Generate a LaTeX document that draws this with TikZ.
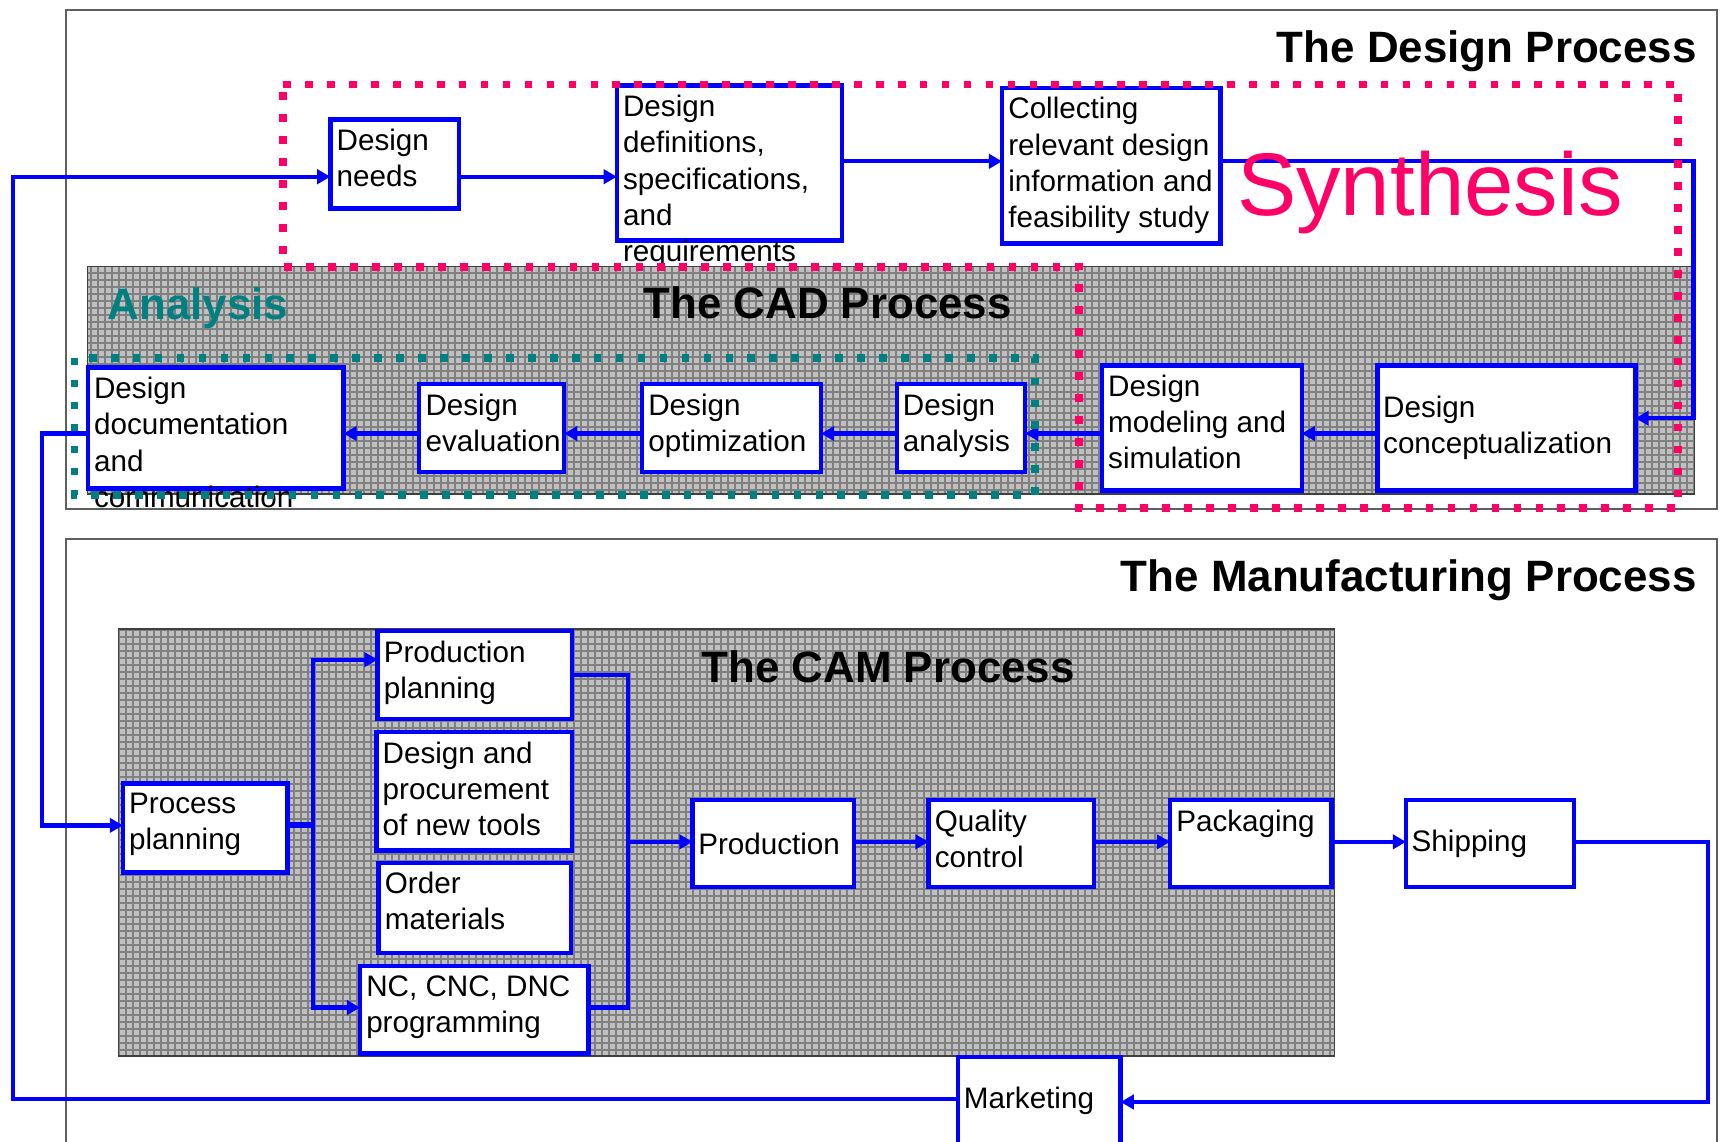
\documentclass[tikz,border=0pt]{standalone}
\usepackage{fontspec}
\setmainfont{Liberation Sans}
\usetikzlibrary{arrows.meta}

\definecolor{flowblue}{RGB}{0,0,255}
\definecolor{synpink}{RGB}{255,0,102}
\definecolor{anateal}{RGB}{0,128,128}
\definecolor{gridfill}{RGB}{192,192,192}
\definecolor{gridline}{RGB}{128,128,128}
\definecolor{framegray}{RGB}{95,95,95}

% a box: name, x, y (north west corner), width, height
\newcommand\flowbox[5]{\node[blk, minimum width=#4pt, minimum height=#5pt] (#1) at (#2,#3) {};}
% top-left label inside a box
\newcommand\toplabel[2]{\node[lbl] (#1-t) at ([xshift=5.5pt,yshift=-8.5pt]#1.north west) {#2};}
% vertically centred label inside a box
\newcommand\midlabel[2]{\node[lbl, anchor=west] (#1-t) at ([xshift=5pt]#1.west) {#2};}
% hatched grey process area (mesh pitch of 7 device pixels)
\newcommand\gridarea[4]{%
  \begin{scope}
    \clip (#1,#2) rectangle (#3,#4);
    \fill[gridfill] (#1,#2) rectangle (#3,#4);
    \draw[gridline, line width=1.8222pt, step=6.37769pt] (#1,#2) grid (#3,#4);
  \end{scope}
  \draw[black!75, line width=1.2pt] (#1,#2) rectangle (#3,#4);}

\begin{document}
\begin{tikzpicture}[x=1pt, y=-1pt,
  blk/.style={draw=flowblue, line width=4pt, fill=white, inner sep=0pt, outer sep=0pt, anchor=north west},
  lbl/.style={font=\fontsize{27}{33}\selectfont, align=left, inner sep=0pt, anchor=north west, text=black},
  link/.style={draw=flowblue, line width=3.9pt},
  flow/.style={link, -{Triangle[length=12pt, width=13pt]}},
  frameln/.style={draw=framegray, line width=1.8pt},
  title/.style={font=\fontsize{40}{48}\selectfont\bfseries, inner sep=0pt},
  pinkdot/.style={draw=synpink, line width=7pt, dash pattern=on 7pt off 13pt},
  tealdot/.style={draw=anateal, line width=7pt, dash pattern=on 7pt off 13pt}]

\useasboundingbox (0,0) rectangle (1568,1040);
\clip (0,0) rectangle (1568,1040);
\fill[white] (0,0) rectangle (1568,1040);

% process frames
\draw[frameln] (60,9) rectangle (1564,464);
\draw[frameln] (60,1060) -- (60,491) -- (1564,491) -- (1564,1060);

% CAD and CAM areas
\gridarea{80}{243}{1544}{450}
\gridarea{108}{573}{1216}{962}

% design process boxes
\flowbox{needs}{301}{109}{117}{81}
\flowbox{defs}{562}{78}{205}{141}
\flowbox{coll}{913}{80}{199}{142}
\flowbox{concept}{1255}{333}{235}{114}
\flowbox{model}{1004}{333}{182}{114}
\flowbox{analysis}{817}{350}{117}{80}
\flowbox{optim}{585}{350}{163}{80}
\flowbox{evalu}{382}{350}{132}{80}
\flowbox{docu}{80}{335}{233}{110}

% manufacturing process boxes
\flowbox{procplan}{112}{714}{150}{81}
\flowbox{prodplan}{344}{575}{177}{80}
\flowbox{tools}{343}{667}{178}{108}
\flowbox{order}{345}{786}{175}{82}
\flowbox{nc}{328}{880}{208}{80}
\flowbox{prod}{631}{729}{147}{79}
\flowbox{qc}{846}{729}{151}{79}
\flowbox{pack}{1066}{729}{147}{79}
\flowbox{ship}{1281}{729}{153}{79}
\flowbox{market}{873}{963}{148}{83}

% connectors of the design process
\coordinate (loopL) at (12,1001);
\draw[flow] (market.west |- loopL) -- (loopL) |- (needs.west |- 0,161);
\draw[flow] (needs.east |- 0,161) -- (defs.west |- 0,161);
\draw[flow] (defs.east |- 0,147) -- (coll.west |- 0,147);
\coordinate (rtD) at (1543,147);
\draw[flow] (coll.east |- rtD) -- (rtD) |- (concept.east |- 0,381);
\draw[flow] (concept.west |- 0,395) -- (model.east |- 0,395);
\draw[flow] (model.west |- 0,395) -- (analysis.east |- 0,395);
\draw[flow] (analysis.west |- 0,395) -- (optim.east |- 0,395);
\draw[flow] (optim.west |- 0,395) -- (evalu.east |- 0,395);
\draw[flow] (evalu.west |- 0,395) -- (docu.east |- 0,395);
\coordinate (lfD) at (38,395);
\draw[flow] (docu.west |- lfD) -- (lfD) |- (procplan.west |- 0,752);

% connectors of the manufacturing process
\coordinate (split) at (285,752);
\draw[link, line width=5.5pt] (procplan.east |- split) -- (split);
\draw[flow] (split) |- (prodplan.west |- 0,601);
\draw[flow] (split) |- (nc.west |- 0,918);
\coordinate (merge) at (572,767);
\draw[link] (prodplan.east |- 0,615) -| (merge) |- (nc.east |- 0,918);
\draw[flow] (merge) -- (prod.west |- merge);
\draw[flow] (prod.east |- merge) -- (qc.west |- merge);
\draw[flow] (qc.east |- merge) -- (pack.west |- merge);
\draw[flow] (pack.east |- merge) -- (ship.west |- merge);
\coordinate (rtM) at (1556,767);
\draw[flow] (ship.east |- rtM) -- (rtM) |- (market.east |- 0,1004);

% box labels
\toplabel{needs}{Design\\needs}
\toplabel{defs}{Design\\definitions,\\specifications,\\and\\requirements}
\toplabel{coll}{Collecting\\relevant design\\information and\\feasibility study}
\midlabel{concept}{Design\\conceptualization}
\toplabel{model}{Design\\modeling and\\simulation}
\toplabel{analysis}{Design\\analysis}
\toplabel{optim}{Design\\optimization}
\toplabel{evalu}{Design\\evaluation}
\toplabel{docu}{Design\\documentation\\and\\communication}
\toplabel{procplan}{Process\\planning}
\toplabel{prodplan}{Production\\planning}
\toplabel{tools}{Design and\\procurement\\of new tools}
\toplabel{order}{Order\\materials}
\toplabel{nc}{NC, CNC, DNC\\programming}
\midlabel{prod}{Production}
\toplabel{qc}{Quality\\control}
\toplabel{pack}{Packaging}
\midlabel{ship}{Shipping}
\node[lbl, anchor=west] (market-t) at ([xshift=5pt]market.west |- 0,1003) {Marketing};

% synthesis and analysis regions
\draw[pinkdot] (258,77) -- (1529,77) -- (1529,463) -- (983,463) -- (983,243) -- (258,243) -- cycle;
\draw[tealdot] (68,326) rectangle (943,451);

% titles
\node[title, anchor=base east] (tdesign) at (1546,57) {The Design Process};
\node[title, anchor=base east] (tmanuf) at (1546,539) {The Manufacturing Process};
\node[title, anchor=base west] (tcad) at (586,290) {The CAD Process};
\node[title, anchor=base west] (tcam) at (639,622) {The CAM Process};
\node[title, anchor=base west, text=anateal] (tana) at (98,291) {Analysis};
\node[anchor=base west, inner sep=0pt, text=synpink, font=\fontsize{81}{97}\selectfont] (tsyn) at (1127,196) {Synthesis};

\end{tikzpicture}
\end{document}
